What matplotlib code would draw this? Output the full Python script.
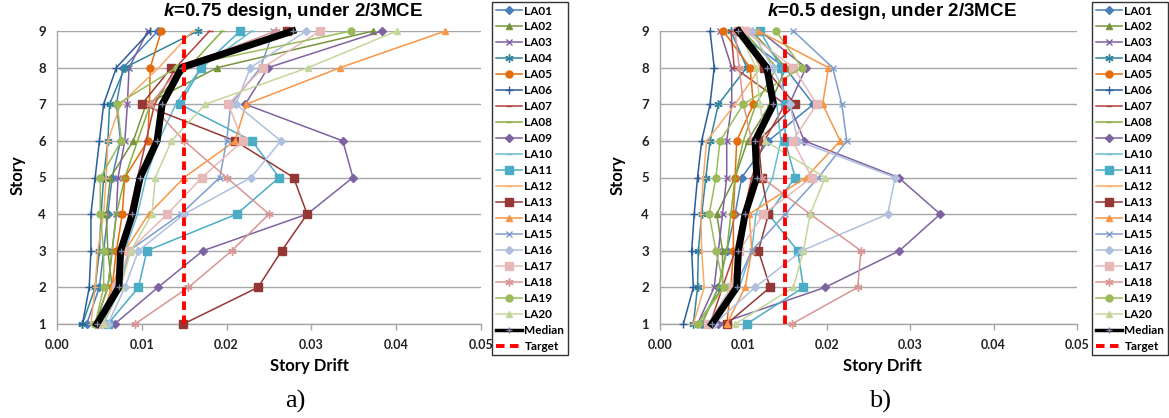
import matplotlib
matplotlib.use("Agg")
import matplotlib.pyplot as plt
import numpy as np

plt.rcParams["mathtext.fontset"] = "custom"
plt.rcParams["mathtext.it"] = "Liberation Sans:bold:italic"

stories = [1, 2, 3, 4, 5, 6, 7, 8, 9]
names = ["LA%02d" % i for i in range(1, 21)]
target = 0.015

# story drift, stories 1..9, k=0.75 design
drift_a = {
    "LA01": [0.0035, 0.0050, 0.0055, 0.0060, 0.0065, 0.0075, 0.0070, 0.0078, 0.0119],
    "LA02": [0.0050, 0.0065, 0.0060, 0.0058, 0.0063, 0.0090, 0.0105, 0.0189, 0.0373],
    "LA03": [0.0045, 0.0060, 0.0065, 0.0070, 0.0072, 0.0080, 0.0083, 0.0085, 0.0107],
    "LA04": [0.0030, 0.0045, 0.0050, 0.0052, 0.0055, 0.0060, 0.0062, 0.0080, 0.0166],
    "LA05": [0.0050, 0.0065, 0.0070, 0.0077, 0.0080, 0.0107, 0.0109, 0.0110, 0.0123],
    "LA06": [0.0030, 0.0038, 0.0040, 0.0040, 0.0045, 0.0050, 0.0055, 0.0070, 0.0110],
    "LA07": [0.0050, 0.0070, 0.0075, 0.0085, 0.0095, 0.0105, 0.0115, 0.0140, 0.0180],
    "LA08": [0.0045, 0.0060, 0.0065, 0.0070, 0.0080, 0.0095, 0.0110, 0.0155, 0.0195],
    "LA09": [0.0068, 0.0119, 0.0172, 0.0295, 0.0349, 0.0337, 0.0222, 0.0249, 0.0383],
    "LA10": [0.0055, 0.0070, 0.0080, 0.0095, 0.0105, 0.0120, 0.0140, 0.0170, 0.0230],
    "LA11": [0.0060, 0.0096, 0.0106, 0.0212, 0.0262, 0.0230, 0.0145, 0.0170, 0.0216],
    "LA12": [0.0040, 0.0045, 0.0048, 0.0055, 0.0058, 0.0060, 0.0075, 0.0120, 0.0160],
    "LA13": [0.0149, 0.0237, 0.0265, 0.0295, 0.0279, 0.0210, 0.0100, 0.0135, 0.0271],
    "LA14": [0.0050, 0.0065, 0.0080, 0.0108, 0.0150, 0.0210, 0.0223, 0.0334, 0.0458],
    "LA15": [0.0055, 0.0075, 0.0085, 0.0146, 0.0192, 0.0200, 0.0205, 0.0240, 0.0255],
    "LA16": [0.0060, 0.0080, 0.0096, 0.0150, 0.0229, 0.0264, 0.0211, 0.0228, 0.0294],
    "LA17": [0.0050, 0.0070, 0.0085, 0.0130, 0.0171, 0.0219, 0.0202, 0.0243, 0.0310],
    "LA18": [0.0092, 0.0155, 0.0206, 0.0250, 0.0200, 0.0150, 0.0110, 0.0145, 0.0258],
    "LA19": [0.0045, 0.0055, 0.0055, 0.0051, 0.0051, 0.0076, 0.0071, 0.0141, 0.0347],
    "LA20": [0.0055, 0.0075, 0.0087, 0.0112, 0.0116, 0.0135, 0.0175, 0.0296, 0.0401],
}
median_a = [0.0047, 0.0073, 0.0075, 0.0089, 0.0098, 0.0118, 0.0124, 0.0147, 0.0278]

# k=0.5 design
drift_b = {
    "LA01": [0.0050, 0.0070, 0.0080, 0.0090, 0.0098, 0.0130, 0.0184, 0.0150, 0.0090],
    "LA02": [0.0045, 0.0075, 0.0075, 0.0068, 0.0090, 0.0105, 0.0132, 0.0151, 0.0110],
    "LA03": [0.0045, 0.0065, 0.0070, 0.0075, 0.0080, 0.0080, 0.0086, 0.0086, 0.0072],
    "LA04": [0.0040, 0.0045, 0.0046, 0.0050, 0.0055, 0.0060, 0.0070, 0.0104, 0.0085],
    "LA05": [0.0080, 0.0085, 0.0088, 0.0088, 0.0090, 0.0092, 0.0112, 0.0108, 0.0076],
    "LA06": [0.0028, 0.0040, 0.0038, 0.0041, 0.0045, 0.0050, 0.0060, 0.0065, 0.0060],
    "LA07": [0.0060, 0.0075, 0.0090, 0.0100, 0.0110, 0.0125, 0.0150, 0.0089, 0.0085],
    "LA08": [0.0050, 0.0070, 0.0080, 0.0085, 0.0090, 0.0100, 0.0115, 0.0140, 0.0100],
    "LA09": [0.0070, 0.0198, 0.0287, 0.0336, 0.0286, 0.0173, 0.0155, 0.0175, 0.0120],
    "LA10": [0.0065, 0.0095, 0.0110, 0.0115, 0.0135, 0.0145, 0.0140, 0.0130, 0.0100],
    "LA11": [0.0104, 0.0172, 0.0165, 0.0130, 0.0162, 0.0150, 0.0150, 0.0145, 0.0120],
    "LA12": [0.0040, 0.0053, 0.0050, 0.0049, 0.0052, 0.0056, 0.0090, 0.0120, 0.0100],
    "LA13": [0.0080, 0.0132, 0.0118, 0.0130, 0.0122, 0.0118, 0.0162, 0.0125, 0.0095],
    "LA14": [0.0080, 0.0102, 0.0110, 0.0107, 0.0175, 0.0216, 0.0195, 0.0202, 0.0118],
    "LA15": [0.0060, 0.0090, 0.0110, 0.0150, 0.0190, 0.0224, 0.0218, 0.0207, 0.0160],
    "LA16": [0.0065, 0.0114, 0.0170, 0.0273, 0.0282, 0.0165, 0.0156, 0.0135, 0.0110],
    "LA17": [0.0058, 0.0085, 0.0095, 0.0124, 0.0182, 0.0159, 0.0188, 0.0160, 0.0102],
    "LA18": [0.0158, 0.0237, 0.0241, 0.0180, 0.0122, 0.0110, 0.0100, 0.0095, 0.0090],
    "LA19": [0.0045, 0.0077, 0.0067, 0.0059, 0.0067, 0.0072, 0.0100, 0.0170, 0.0139],
    "LA20": [0.0090, 0.0160, 0.0172, 0.0180, 0.0198, 0.0126, 0.0120, 0.0115, 0.0095],
}
median_b = [0.0062, 0.0092, 0.0094, 0.0102, 0.0116, 0.0114, 0.0136, 0.0128, 0.0094]

asterisk = (6, 2, 0)
styles = {
    "LA01": ("#4A7EBB", "D", 4),
    "LA02": ("#77933C", "^", 5),
    "LA03": ("#7D60A0", "x", 5),
    "LA04": ("#31859C", asterisk, 6),
    "LA05": ("#E46C0A", "o", 5),
    "LA06": ("#2C5D98", "+", 6),
    "LA07": ("#B4403D", "_", 5),
    "LA08": ("#86AE3E", "_", 5),
    "LA09": ("#7F62A1", "D", 4),
    "LA10": ("#6CBAD3", "_", 5),
    "LA11": ("#4BACC6", "s", 6),
    "LA12": ("#F9A96A", "_", 5),
    "LA13": ("#953735", "s", 6),
    "LA14": ("#F79646", "^", 5),
    "LA15": ("#7E9DCB", "x", 5),
    "LA16": ("#AFC0DE", "D", 4),
    "LA17": ("#E6B9B8", "s", 6),
    "LA18": ("#D99694", asterisk, 6),
    "LA19": ("#9BBB59", "o", 5),
    "LA20": ("#C3D69B", "^", 5),
}

LABEL_FONT = "Lato"


def draw_panel(fig, rect, drifts, median):
    ax = fig.add_axes(rect)
    for name in names:
        color, marker, ms = styles[name]
        ax.plot(drifts[name], stories, color=color, lw=1.1, marker=marker, ms=ms,
                mec=color, mfc=color, mew=1.0, label=name, clip_on=False, zorder=3)
    ax.plot(median, stories, color="black", lw=5, marker="+", ms=5, mec="#7F7F9F",
            mew=1.0, label="Median", clip_on=False, zorder=4)
    ax.plot([target, target], [stories[0], stories[-1]], color="red", lw=2.8,
            ls=(0, (2.2, 1.4)), label="Target", clip_on=False, zorder=5)

    ax.set_xlim(0, 0.05)
    ax.set_ylim(1, 9)
    ax.set_xticks(np.arange(0, 0.051, 0.01))
    ax.set_xticklabels(["%.2f" % v for v in np.arange(0, 0.051, 0.01)])
    ax.set_yticks(stories)
    ax.grid(axis="y", color="#A6A6A6", lw=1.0)
    ax.set_axisbelow(True)
    for s in ["top", "right"]:
        ax.spines[s].set_visible(False)
    for s in ["left", "bottom"]:
        ax.spines[s].set_color("#A6A6A6")
        ax.spines[s].set_linewidth(1.0)
    ax.tick_params(axis="x", colors="#A6A6A6", length=4, width=1, pad=7,
                   labelcolor="#222222", labelsize=9)
    ax.tick_params(axis="y", length=0, pad=8, labelcolor="#222222", labelsize=9.5)
    for t in ax.get_xticklabels() + ax.get_yticklabels():
        t.set_fontweight("bold")
        t.set_fontfamily(LABEL_FONT)
    return ax


fig = plt.figure(figsize=(11.69, 4.18), dpi=100)
W, H = 1169.0, 418.0

panels = [
    (57, 481, drift_a, median_a, "0.75", 293, 492, 309, 295, "a)", 18),
    (660, 1077, drift_b, median_b, "0.5", 892, 1092, 882, 880, "b)", 618),
]
for x0, x1, drifts, median, k, tx, lx, xlx, capx, cap, ylx in panels:
    rect = [x0 / W, 1 - 324 / H, (x1 - x0) / W, (324 - 31) / H]
    ax = draw_panel(fig, rect, drifts, median)
    fig.text(tx / W, 1 - 12 / H, r"$k$" + "=" + k + " design, under 2/3MCE",
             ha="center", va="center", fontsize=13.5, fontweight="bold",
             family="Liberation Sans")
    fig.text(ylx / W, 1 - 175 / H, "Story", rotation=90, ha="center", va="center",
             fontsize=12, fontweight="bold", family=LABEL_FONT)
    fig.text(xlx / W, 1 - 366 / H, "Story Drift", ha="center", va="center",
             fontsize=12, fontweight="bold", family=LABEL_FONT)
    fig.text(capx / W, 1 - 401 / H, cap, ha="center", va="center",
             fontsize=19, family="Liberation Serif")
    leg = ax.legend(loc="upper left", bbox_to_anchor=(lx / W, 1 - 2 / H),
                    bbox_transform=fig.transFigure, frameon=True, fancybox=False,
                    handlelength=2.2, handletextpad=0.25, labelspacing=0.42,
                    borderpad=0.3, borderaxespad=0,
                    prop={"family": LABEL_FONT, "weight": "bold", "size": 8.5})
    leg.get_lines()[20].set_linewidth(2.5)
    leg.get_frame().set_edgecolor("black")
    leg.get_frame().set_linewidth(1.0)

fig.savefig("out.png", dpi=100)
